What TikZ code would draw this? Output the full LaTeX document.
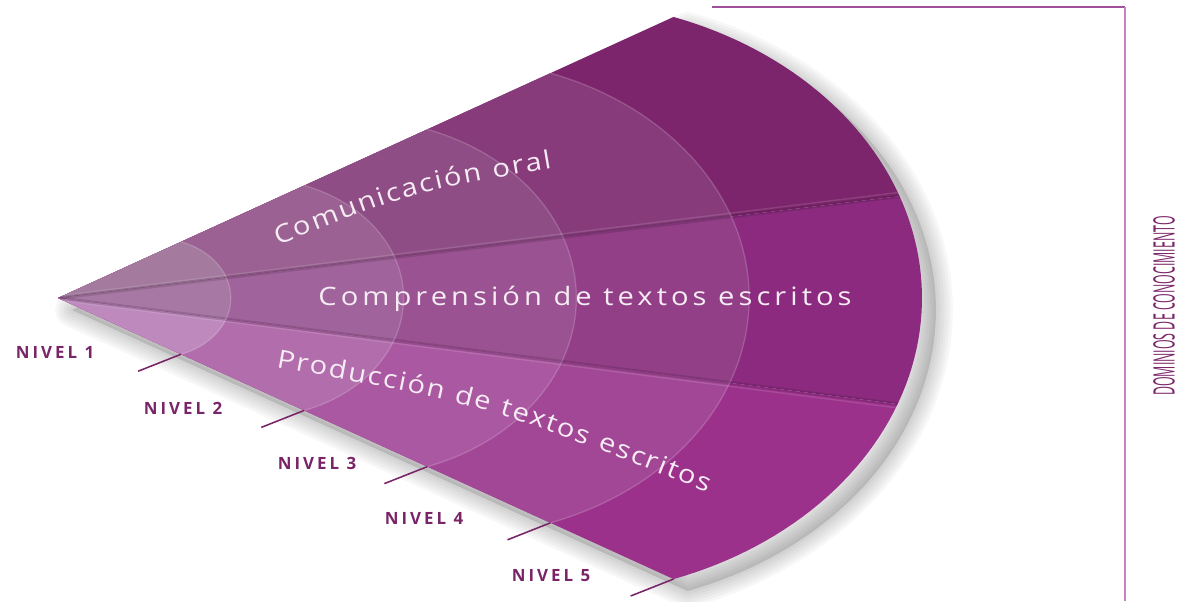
\documentclass[tikz,border=0pt]{standalone}
\usepackage{fontspec}
\usepackage{graphicx}
\setmainfont{Open Sans}
\newfontfamily\bandfont[LetterSpace=16,FakeStretch=1.15]{Open Sans}
\newfontfamily\pathfont[FakeStretch=1.15]{Open Sans}
\newfontfamily\nivfont[LetterSpace=18]{Open Sans}
\usetikzlibrary{decorations.text}
\definecolor{tA}{HTML}{A47B9F}\definecolor{tB}{HTML}{9A6192}\definecolor{tC}{HTML}{8F4D86}\definecolor{tD}{HTML}{873B7B}\definecolor{tE}{HTML}{7D256C}
\definecolor{mA}{HTML}{A878A5}\definecolor{mB}{HTML}{A1639C}\definecolor{mC}{HTML}{9A5292}\definecolor{mD}{HTML}{923F88}\definecolor{mE}{HTML}{8B2A7F}
\definecolor{bA}{HTML}{BE8ABE}\definecolor{bB}{HTML}{B26DAC}\definecolor{bC}{HTML}{AA58A1}\definecolor{bD}{HTML}{A24796}\definecolor{bE}{HTML}{9B318B}
\definecolor{nivel}{HTML}{7A2468}
\definecolor{frameA}{HTML}{A0509A}
\definecolor{frameB}{HTML}{C284C0}
\definecolor{txtw}{HTML}{F6ECF4}
\tikzset{
  fancurve/.style={insert path={plot[domain=-70.6:70.6, samples=80, variable=\t] ({492+372*cos(\t)}, {298*sin(\t)})}},
  fanshape/.style={insert path={(0,0) -- plot[domain=-70.6:70.6, samples=80, variable=\t] ({492+372*cos(\t)}, {298*sin(\t)}) -- cycle}},
  nivellabel/.style={font=\nivfont\bfseries\fontsize{12}{14}\selectfont, text=nivel, inner sep=0pt},
  tickline/.style={draw=nivel, line width=1.1pt},
  bandtext/.style={font=\bandfont\fontsize{18}{21}\selectfont, text=txtw},
}
\begin{document}
\begin{tikzpicture}[x=0.025cm,y=-0.025cm]
\useasboundingbox (0,0) rectangle (1181,601);
% frame
\coordinate (f1) at (712,7);
\coordinate (f2) at (1125,7);
\coordinate (f3) at (1125,601);
\draw[frameA, line width=1.3pt] (f1) -- (f2);
\draw[frameB, line width=1.5pt] (f2) -- (f3);
\node[rotate=90, text=nivel, font=\fontsize{21}{23}\selectfont, inner sep=0pt] (dom) at (1164,306) {\scalebox{0.42}[1]{DOMINIOS DE CONOCIMIENTO}};
\begin{scope}[shift={(58,298)}]
  % shadow
  \begin{scope}[shift={(14,12)}]
    \foreach \w in {24,20,16,12,8,4} {
      \draw[black, opacity=0.03, line width=\w pt, line join=round, fanshape];
    }
    \fill[black, opacity=0.12, fanshape];
  \end{scope}
  % bands
  \begin{scope}
    \clip (0,0) -- (-40:1500) -- (-6.9:1500) -- cycle;
    \foreach \k/\c in {5/tE,4/tD,3/tC,2/tB,1/tA} {\fill[\c, scale=\k/5, fanshape];}
  \end{scope}
  \begin{scope}
    \clip (0,0) -- (-6.9:1500) -- (7.2:1500) -- cycle;
    \foreach \k/\c in {5/mE,4/mD,3/mC,2/mB,1/mA} {\fill[\c, scale=\k/5, fanshape];}
  \end{scope}
  \begin{scope}
    \clip (0,0) -- (7.2:1500) -- (40:1500) -- cycle;
    \foreach \k/\c in {5/bE,4/bD,3/bC,2/bB,1/bA} {\fill[\c, scale=\k/5, fanshape];}
  \end{scope}
  % separators and arc highlights
  \begin{scope}
    \clip[fanshape];
    \draw[black, opacity=0.13, line width=2.5pt] (0,0) -- (-6.9:1500);
    \draw[black, opacity=0.13, line width=2.5pt] (0,0) -- (7.2:1500);
    \draw[white, opacity=0.12, line width=1pt] (0,-2) -- (-7.1:1500);
    \draw[white, opacity=0.12, line width=1pt] (0,2) -- (7.4:1500);
    \foreach \k in {1,2,3,4} {\draw[white, opacity=0.18, line width=0.9pt, scale=\k/5, fancurve];}
  \end{scope}
  % ticks
  \foreach \k in {1,...,5} {
    \coordinate (tk\k) at (\k*615.6/5, \k*281/5);
    \coordinate (te\k) at (\k*615.6/5-43, \k*281/5+17);
    \draw[tickline] (tk\k) -- (te\k);
  }
\end{scope}
% level labels
\node[nivellabel] (n1) at (55,352) {NIVEL 1};
\node[nivellabel] (n2) at (183,408) {NIVEL 2};
\node[nivellabel] (n3) at (317,463) {NIVEL 3};
\node[nivellabel] (n4) at (424,518) {NIVEL 4};
\node[nivellabel] (n5) at (551,576) {NIVEL 5};
% band texts
\node[bandtext, anchor=base, inner sep=0pt] (comp) at (585,305) {Comprensión de textos escritos};
\path[decorate, decoration={text along path, text align={fit to path},
  text={|\pathfont\fontsize{18}{21}\selectfont\color{txtw}|Comunicación oral}}]
  (278,245) .. controls (412,192) .. (552,168);
\path[decorate, decoration={text along path, text align={fit to path},
  text={|\pathfont\fontsize{18}{21}\selectfont\color{txtw}|Producción de textos escritos}}]
  (276,367) .. controls (490,406) .. (707,492);
\end{tikzpicture}
\end{document}
